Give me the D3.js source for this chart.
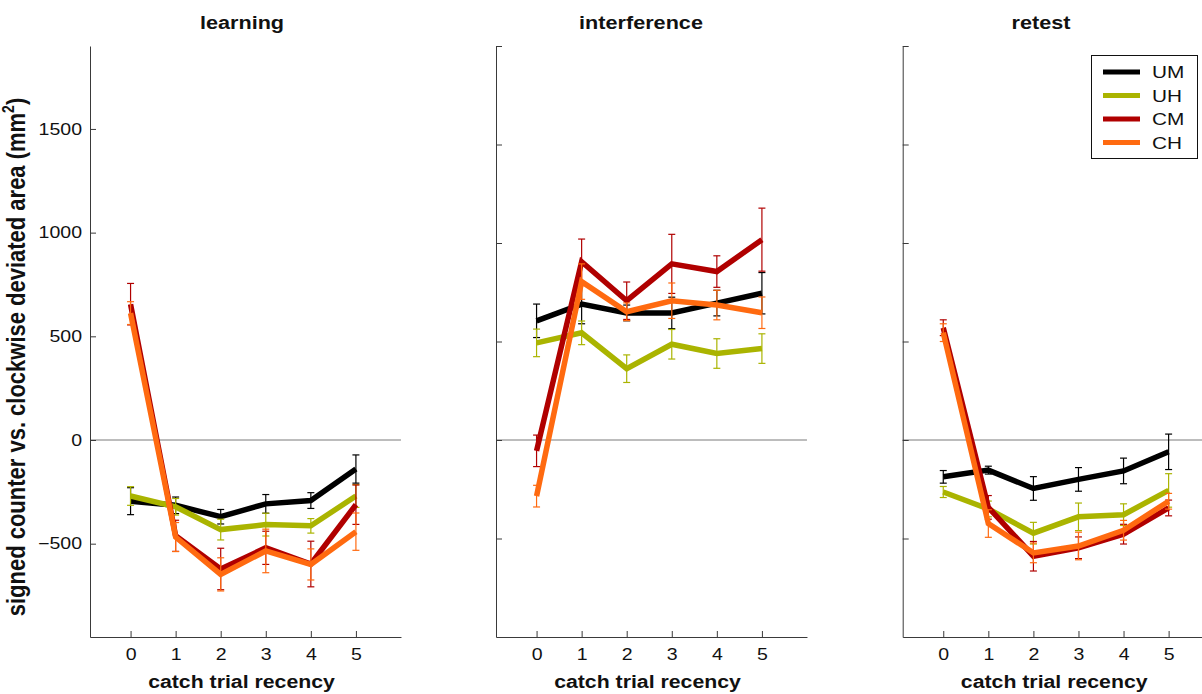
<!DOCTYPE html>
<html>
<head>
<meta charset="utf-8">
<script src="https://cdn.jsdelivr.net/npm/d3@7/dist/d3.min.js"></script>
<style>
  html, body { margin: 0; padding: 0; background: #fff; }
  svg { display: block; font-family: "Liberation Sans", Arial, Helvetica, sans-serif; }
</style>
</head>
<body>
<svg id="chart" width="1202" height="694"></svg>
<script>
// Catch-trial recency (x categories)
const recency = [0, 1, 2, 3, 4, 5];
const recencyTicks = ["0", "1", "2", "3", "4", "5"];

// Groups and their colours
const groups = ["UM", "UH", "CM", "CH"];
const groupColors = ["#000000", "#aab400", "#b00000", "#ff6a10"];

// Phase panels
const phases = ["learning", "interference", "retest"];

// Mean signed deviated area (mm^2) per group, learning phase
const learningUM = [-295, -315, -370, -308, -292, -140];
const learningUH = [-270, -322, -432, -408, -414, -270];
const learningCM = [655, -462, -622, -520, -598, -312];
const learningCH = [612, -468, -648, -535, -600, -442];
// Standard errors, learning phase
const learningUMerr = [65, 40, 35, 45, 38, 68];
const learningUHerr = [45, 40, 50, 55, 35, 55];
const learningCMerr = [100, 75, 100, 80, 110, 95];
const learningCHerr = [55, 70, 80, 105, 75, 90];

// Interference phase
const interferenceUM = [605, 690, 645, 645, 695, 745];
const interferenceUH = [493, 544, 362, 486, 439, 464];
const interferenceCM = [-55, 905, 707, 894, 855, 1017];
const interferenceCH = [-285, 804, 651, 707, 685, 646];
const interferenceUMerr = [85, 100, 40, 80, 65, 105];
const interferenceUHerr = [70, 60, 70, 75, 75, 75];
const interferenceCMerr = [80, 115, 95, 150, 80, 160];
const interferenceCHerr = [55, 90, 45, 90, 75, 80];

// Retest phase
const retestUM = [-187, -153, -246, -200, -157, -60];
const retestUH = [-264, -350, -473, -390, -379, -256];
const retestCM = [570, -342, -590, -547, -478, -345];
const retestCH = [545, -424, -573, -538, -458, -311];
const retestUMerr = [32, 20, 60, 60, 65, 90];
const retestUHerr = [28, 40, 55, 70, 55, 85];
const retestCMerr = [40, 60, 75, 55, 50, 40];
const retestCHerr = [45, 70, 50, 70, 50, 40];

// Y-axis ranges and ticks per panel
const yDomains = [[-950, 1900], [-1000, 2000], [-1000, 2000]];
const yTicks = [[-500, 0, 500, 1000, 1500], [-500, 0, 500, 1000, 1500, 2000], [-500, 0, 500, 1000, 1500, 2000]];
const showYLabels = [true, false, false];

const means = [
  [learningUM, learningUH, learningCM, learningCH],
  [interferenceUM, interferenceUH, interferenceCM, interferenceCH],
  [retestUM, retestUH, retestCM, retestCH]
];
const errs = [
  [learningUMerr, learningUHerr, learningCMerr, learningCHerr],
  [interferenceUMerr, interferenceUHerr, interferenceCMerr, interferenceCHerr],
  [retestUMerr, retestUHerr, retestCMerr, retestCHerr]
];

// Layout
const svg = d3.select("#chart");
const axisLefts = [90, 496, 902.7];
const titleCenters = [242, 641, 1041];
const plotTop = 46, plotBottom = 637;
const unitW = 45.07;
const xDomain = [-0.9, 6];
const axisColor = "#3a3a3a";
const tickFont = 16, tickStretch = 1.22;

function stretchText(sel, sx) {
  sel.each(function () {
    const t = d3.select(this);
    const x = +t.attr("x") || 0, y = +t.attr("y") || 0;
    t.attr("x", null).attr("y", null)
     .attr("transform", `translate(${x},${y}) scale(${sx},1)`);
  });
}

phases.forEach((phase, p) => {
  const x0 = axisLefts[p];
  const x = d3.scaleLinear().domain(xDomain)
    .range([x0, x0 + (xDomain[1] - xDomain[0]) * unitW]);
  const y = d3.scaleLinear().domain(yDomains[p]).range([plotBottom, plotTop]);
  const g = svg.append("g");

  // zero reference line
  g.append("line")
    .attr("x1", x(xDomain[0])).attr("x2", x(xDomain[1]))
    .attr("y1", y(0)).attr("y2", y(0))
    .attr("stroke", "#7a7a7a").attr("stroke-width", 1);

  // x axis
  const xAxis = d3.axisBottom(x).tickValues(recency)
    .tickFormat((d, i) => recencyTicks[i])
    .tickSizeInner(-6).tickSizeOuter(0).tickPadding(12);
  const gx = g.append("g").attr("transform", `translate(0,${plotBottom})`).call(xAxis);
  gx.select(".domain").attr("stroke", axisColor);
  gx.selectAll(".tick line").attr("stroke", axisColor);
  gx.selectAll("text").attr("fill", "#111").attr("font-size", tickFont).attr("font-family", null);
  stretchText(gx.selectAll("text"), tickStretch);

  // y axis
  const yAxis = d3.axisLeft(y).tickValues(yTicks[p])
    .tickFormat(showYLabels[p] ? d3.format("d") : () => "")
    .tickSizeInner(-6).tickSizeOuter(0).tickPadding(8);
  const gy = g.append("g").attr("transform", `translate(${x0},0)`).call(yAxis);
  gy.select(".domain").attr("stroke", axisColor);
  gy.selectAll(".tick line").attr("stroke", axisColor);
  gy.selectAll("text").attr("fill", "#111").attr("font-size", tickFont).attr("font-family", null);
  stretchText(gy.selectAll("text"), tickStretch);

  // series: error bars and mean lines
  const line = d3.line().x((d, i) => x(recency[i])).y(d => y(d));
  groups.forEach((grp, s) => {
    const vals = means[p][s], ee = errs[p][s], col = groupColors[s];
    const eb = g.append("g").attr("stroke", col).attr("stroke-width", 1.2).attr("fill", "none");
    vals.forEach((v, i) => {
      const cx = x(recency[i]);
      eb.append("line").attr("x1", cx).attr("x2", cx).attr("y1", y(v - ee[i])).attr("y2", y(v + ee[i]));
      eb.append("line").attr("x1", cx - 3.5).attr("x2", cx + 3.5).attr("y1", y(v - ee[i])).attr("y2", y(v - ee[i]));
      eb.append("line").attr("x1", cx - 3.5).attr("x2", cx + 3.5).attr("y1", y(v + ee[i])).attr("y2", y(v + ee[i]));
    });
    g.append("path").datum(vals)
      .attr("d", line)
      .attr("fill", "none").attr("stroke", col)
      .attr("stroke-width", 5.5).attr("stroke-linejoin", "miter");
  });

  // panel title and x label
  const cxPanel = (x(xDomain[0]) + x(xDomain[1])) / 2 - 4;
  g.append("text").text(phase)
    .attr("transform", `translate(${titleCenters[p]},28.5) scale(1.17,1)`)
    .attr("text-anchor", "middle").attr("font-weight", "bold").attr("font-size", 18.5).attr("fill", "#111");
  g.append("text").text("catch trial recency")
    .attr("transform", `translate(${cxPanel},687.5) scale(1.15,1)`)
    .attr("text-anchor", "middle").attr("font-weight", "bold").attr("font-size", 18.5).attr("fill", "#111");
});

// y-axis label
const yl = svg.append("text")
  .attr("transform", `translate(24.5,357) scale(1.15,1) rotate(-90)`)
  .attr("text-anchor", "middle").attr("font-weight", "bold").attr("font-size", 22).attr("fill", "#111");
yl.append("tspan").text("signed counter vs. clockwise deviated area (mm");
yl.append("tspan").text("2").attr("font-size", 14).attr("dy", -9);
yl.append("tspan").text(")").attr("dy", 9);

// legend
const lg = svg.append("g");
lg.append("rect").attr("x", 1091.5).attr("y", 55.5).attr("width", 106).attr("height", 103)
  .attr("fill", "#fff").attr("stroke", "#111").attr("stroke-width", 1);
const rowY = d3.scalePoint().domain(groups).range([72, 142.5]);
groups.forEach((grp, s) => {
  lg.append("line").attr("x1", 1103).attr("x2", 1140).attr("y1", rowY(grp)).attr("y2", rowY(grp))
    .attr("stroke", groupColors[s]).attr("stroke-width", 5);
  lg.append("text").text(grp)
    .attr("transform", `translate(1152,${rowY(grp) + 6}) scale(1.3,1)`)
    .attr("font-size", 16).attr("fill", "#111");
});
</script>
</body>
</html>
